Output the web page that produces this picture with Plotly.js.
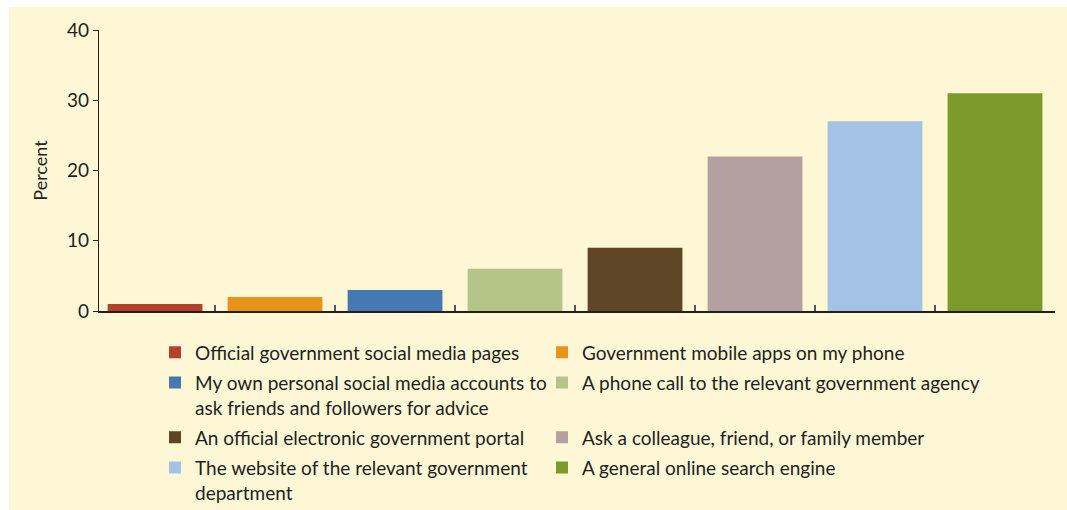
<!DOCTYPE html>
<html><head><meta charset="utf-8">
<script src="https://cdn.plot.ly/plotly-3.0.1.min.js"></script>
<style>
html,body{margin:0;padding:0;background:#fff;width:1067px;height:510px;overflow:hidden;}
#chart{position:absolute;left:9px;top:7px;width:1058px;height:503px;}
</style></head>
<body>
<div id="chart"></div>
<script>
const categories = [
  "Official government social media pages",
  "Government mobile apps on my phone",
  "My own personal social media accounts to<br>ask friends and followers for advice",
  "A phone call to the relevant government agency",
  "An official electronic government portal",
  "Ask a colleague, friend, or family member",
  "The website of the relevant government<br>department",
  "A general online search engine"
];
const values = [1, 2, 3, 6, 9, 22, 27, 31];
const colors = ["#B3412C", "#E8941A", "#4679B2", "#B5C589", "#5E4627", "#B4A0A0", "#A3C2E5", "#7A9A2A"];
const yTicks = [0, 10, 20, 30, 40];
// legend column for each category (row-wise two-column legend)
const legendColumn = ["legend", "legend2", "legend", "legend2", "legend", "legend2", "legend", "legend2"];
// an empty second line keeps row 2 aligned with the two-line entry of column 1
const legendPad = ["", "", "", "<br> ", "", "", "", ""];

const FONT = "Lato, 'Noto Sans', sans-serif";
const TXT = "#231F20";

const traces = categories.map((c, i) => ({
  type: "bar",
  x: ["c" + i],
  y: [values[i]],
  name: c + legendPad[i],
  legend: legendColumn[i],
  legendgroup: "g" + i,
  marker: {color: colors[i]},
  width: 0.79,
  hoverinfo: "y+name"
}));

const legendBase = {
  orientation: "v",
  xref: "paper", yref: "paper",
  xanchor: "left", yanchor: "top",
  valign: "top",
  traceorder: "grouped",
  tracegroupgap: 2.5,
  font: {size: 19, color: TXT, family: FONT},
  bgcolor: "rgba(0,0,0,0)"
};

const layout = {
  width: 1058, height: 503,
  paper_bgcolor: "#FDF7D6",
  plot_bgcolor: "#FDF7D6",
  margin: {l: 90, r: 12, t: 23, b: 199, autoexpand: false},
  font: {family: FONT, color: TXT, size: 18},
  showlegend: true,
  barmode: "overlay",
  xaxis: {
    type: "category",
    categoryorder: "array",
    categoryarray: categories.map((c, i) => "c" + i),
    range: [-0.467, 7.5],
    showticklabels: false,
    tickson: "boundaries",
    ticks: "inside",
    ticklen: 6,
    tickcolor: "#555",
    tickwidth: 1.5,
    showline: true,
    linecolor: "#231F20",
    linewidth: 1.5,
    showgrid: false,
    zeroline: false,
    fixedrange: true
  },
  yaxis: {
    range: [0, 40],
    tickvals: yTicks,
    ticks: "outside",
    ticklen: 5,
    tickcolor: "#231F20",
    tickwidth: 1,
    showline: true,
    linecolor: "#231F20",
    linewidth: 1.2,
    showgrid: false,
    zeroline: false,
    tickfont: {size: 19, color: TXT, family: FONT},
    title: {text: "Percent", font: {size: 18, color: TXT, family: FONT}, standoff: 14},
    fixedrange: true
  },
  legend: Object.assign({}, legendBase, {x: 0.0586, y: -0.0797}),
  legend2: Object.assign({}, legendBase, {x: 0.4634, y: -0.0797})
};

Plotly.newPlot("chart", traces, layout, {displayModeBar: false, staticPlot: true});
</script>
</body></html>
